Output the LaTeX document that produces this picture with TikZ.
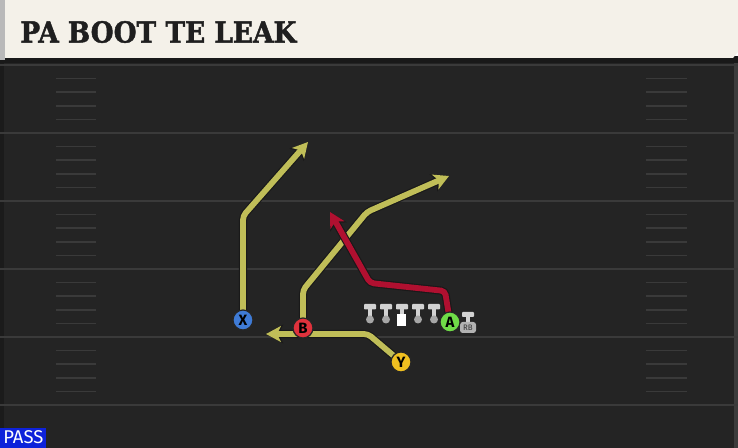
\documentclass[tikz,border=0pt]{standalone}
\usepackage{fontspec}
\usetikzlibrary{arrows.meta}
\newfontfamily\titlefont[BoldFont={DejaVu Serif Bold},BoldFeatures={FakeBold=1.6}]{DejaVu Serif}
\newfontfamily\labelfont{Fira Sans}

\definecolor{cream}{HTML}{F4F1E9}
\definecolor{turf}{HTML}{242424}
\definecolor{yardline}{HTML}{3A3A3A}
\definecolor{routeyellow}{HTML}{C0BE58}
\definecolor{routered}{HTML}{B01030}
\definecolor{xblue}{HTML}{3F7BD6}
\definecolor{bred}{HTML}{E0323C}
\definecolor{ygold}{HTML}{F0C020}
\definecolor{agreen}{HTML}{70DC48}
\definecolor{passblue}{HTML}{0E22DA}

\pgfdeclarelayer{field}
\pgfdeclarelayer{routes}
\pgfsetlayers{field,routes,main}

\tikzset{
  player/.style={circle, draw=black!85, line width=0.7pt, inner sep=0pt,
    minimum size=0.4cm, font=\labelfont\bfseries\fontsize{8.5}{9}\selectfont},
  route/.style={line width=3.3pt, rounded corners=0.08cm,
    -{Stealth[length=0.3cm,width=0.32cm,inset=0.08cm]},
    preaction={draw=black!90, line width=4.6pt,
      -{Stealth[length=0.34cm,width=0.37cm,inset=0.09cm]}}},
  hash/.style={yardline, line width=0.9pt},
  blocker/.style={gray!35},
}

\begin{document}
\begin{tikzpicture}[x=0.02cm, y=-0.02cm]
\useasboundingbox (0,0) rectangle (738,448);
\begin{pgfonlayer}{field}
% Field
\fill[turf] (0,58) rectangle (738,448);
\fill[black!25!turf] (0,63) rectangle (4,448);
\fill[black!8!gray!30!turf] (734,63) rectangle (738,448);
\fill[black!90] (0,56) rectangle (738,63);
\foreach \k in {0,...,5}
  \draw[yardline, line width=1.2pt] (0,65+68*\k) -- (738,65+68*\k);
\foreach \k in {0,...,4}
  \foreach \j in {1,...,4} {
    \draw[hash] (56,65+68*\k+13.6*\j) -- (96,65+68*\k+13.6*\j);
    \draw[hash] (646,65+68*\k+13.6*\j) -- (687,65+68*\k+13.6*\j);
  }
% Header
\fill[gray!55] (0,0) rectangle (5,60);
\fill[cream] (5,0) -- (738,0) -- (738,52) -- (733,58) -- (5,58) -- cycle;
\end{pgfonlayer}

% Title and tag
\node[anchor=west, inner sep=0pt, text=black!88] (title) at (20,32)
  {\scalebox{0.91}[1]{\titlefont\bfseries\fontsize{16.5}{18}\selectfont PA BOOT TE LEAK}};
\node[fill=passblue, text=white, anchor=south west, inner sep=0pt,
  minimum width=0.92cm, minimum height=0.4cm,
  font=\labelfont\fontsize{10.5}{11}\selectfont] (tag) at (0,448) {PASS};

% Line
\foreach \x in {370,386,402,418,434} {
  \fill[blocker, rounded corners=0.5pt] (\x-6,304) rectangle (\x+6,309.5);
  \fill[blocker] (\x-2,308) rectangle (\x+2,318);
  \fill[gray!70] (\x,319.5) circle (4);
}
\fill[white] (397,314) rectangle (406,326);
\fill[blocker, rounded corners=0.5pt] (462,312) rectangle (474,317);
\fill[blocker] (466,316) rectangle (470,322);
\node[fill=gray!60, text=black!80, rounded corners=1.5pt, inner sep=0pt,
  minimum width=0.32cm, minimum height=0.22cm,
  font=\labelfont\fontsize{4.5}{5}\selectfont] (rb) at (468,327.5) {RB};

% Players
\node[player, fill=xblue] (X) at (243,320) {X};
\node[player, fill=bred] (B) at (303,328) {B};
\node[player, fill=ygold] (Y) at (401,362) {Y};
\node[player, fill=agreen] (A) at (450,322) {A};

% Routes
\begin{pgfonlayer}{routes}
\coordinate (xtip) at (308,142);
\coordinate (btip) at (449,176);
\coordinate (ytip) at (266,334);
\coordinate (atip) at (330,212);
\draw[route, routeyellow] (X.center) -- (243,216) -- (xtip);
\draw[route, routeyellow] (B.center) -- (303,290) -- (367,212) -- (btip);
\draw[route, routeyellow] (Y.center) -- (368,334) -- (ytip);
\draw[route, routered] (A.center) -- (445,291) -- (370,283) -- (atip);
\end{pgfonlayer}
\end{tikzpicture}
\end{document}
